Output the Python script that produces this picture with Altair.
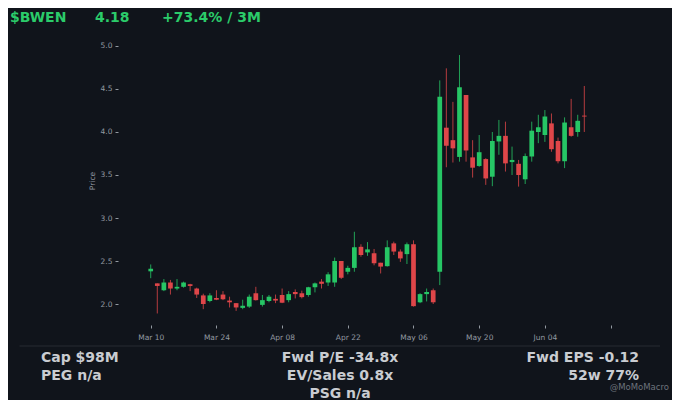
import json
import altair as alt
import numpy as np
import pandas as pd

# ---- data (trading-day index 0 = Mar 10) ----
opens = [2.38, 2.24, 2.16, 2.25, 2.18, 2.20, 2.23, 2.18, 2.10, 2.035,
         2.07, 2.11, 2.04, 2.01, 1.955, 1.97, 2.125, 1.99, 2.035, 2.06,
         2.105, 2.045, 2.14, 2.125, 2.105, 2.195, 2.26, 2.25, 2.25, 2.50,
         2.375, 2.42, 2.665, 2.60, 2.59, 2.48, 2.44, 2.705, 2.61, 2.58,
         2.695, 2.02, 2.115, 2.16, 2.375, 4.05, 3.905, 3.71, 4.43, 3.705,
         3.605, 3.685, 3.48, 3.89, 3.955, 3.65, 3.63, 3.45, 3.715, 4.00,
         3.965, 4.10, 3.895, 3.66, 4.055, 4.00, 4.19]
highs = [2.46, 2.24, 2.29, 2.28, 2.29, 2.26, 2.235, 2.19, 2.12, 2.125,
         2.16, 2.15, 2.085, 2.01, 2.05, 2.11, 2.20, 2.105, 2.105, 2.11,
         2.18, 2.15, 2.17, 2.155, 2.20, 2.25, 2.29, 2.37, 2.54, 2.50,
         2.445, 2.84, 2.695, 2.72, 2.64, 2.48, 2.74, 2.725, 2.635, 2.715,
         2.74, 2.125, 2.18, 2.18, 4.60, 4.74, 4.35, 4.895, 4.43, 3.905,
         3.965, 3.695, 4.00, 4.14, 4.12, 3.83, 3.675, 3.75, 4.12, 4.20,
         4.255, 4.215, 3.935, 4.17, 4.385, 4.20, 4.535]
lows = [2.30, 1.89, 2.15, 2.11, 2.16, 2.19, 2.15, 2.07, 1.94, 2.02,
        2.045, 2.045, 1.96, 1.92, 1.94, 1.955, 2.04, 1.97, 2.02, 2.01,
        2.01, 2.02, 2.065, 2.065, 2.085, 2.135, 2.18, 2.21, 2.20, 2.29,
        2.345, 2.375, 2.55, 2.56, 2.45, 2.355, 2.435, 2.57, 2.49, 2.465,
        1.97, 2.01, 2.03, 2.00, 2.22, 3.59, 3.645, 3.655, 3.655, 3.47,
        3.595, 3.385, 3.37, 3.735, 3.54, 3.50, 3.365, 3.395, 3.655, 3.87,
        3.885, 3.77, 3.635, 3.58, 3.945, 3.945, 4.00]
closes = [2.41, 2.21, 2.25, 2.18, 2.20, 2.25, 2.21, 2.11, 2.00, 2.10,
          2.05, 2.055, 2.02, 1.96, 1.98, 2.085, 2.045, 2.045, 2.085, 2.04,
          2.015, 2.115, 2.115, 2.08, 2.195, 2.24, 2.235, 2.345, 2.50, 2.305,
          2.42, 2.66, 2.57, 2.635, 2.475, 2.435, 2.66, 2.61, 2.53, 2.695,
          1.975, 2.115, 2.14, 2.02, 4.41, 3.84, 3.81, 4.52, 3.785, 3.585,
          3.765, 3.46, 3.895, 3.955, 3.635, 3.675, 3.50, 3.72, 4.015, 4.055,
          4.18, 3.80, 3.66, 4.11, 3.955, 4.13, 4.18]

tick_index = [0, 10, 20, 30, 40, 50, 60, 70]
tick_labels = ["Mar 10", "Mar 24", "Apr 08", "Apr 22", "May 06", "May 20", "Jun 04", ""]
y_ticks = [2.0, 2.5, 3.0, 3.5, 4.0, 4.5, 5.0]

header = ["$BWEN", "4.18", "+73.4% / 3M"]
stats_left = ["Cap $98M", "PEG n/a"]
stats_mid = ["Fwd P/E -34.8x", "EV/Sales 0.8x", "PSG n/a"]
stats_right = ["Fwd EPS -0.12", "52w 77%"]
credit = "@MoMoMacro"

df = pd.DataFrame({"i": list(range(len(opens))), "open": opens, "high": highs,
                   "low": lows, "close": closes})
df["dir"] = np.where(df["close"] >= df["open"], "up", "down")

BG = "#10141b"
GREEN = "#26c665"
RED = "#df4649"
AXIS_TXT = "#9299a1"
STAT_TXT = "#c9ccd1"
HEAD = "#2bcb6a"
FONT = "DejaVu Sans"

W, H = 514, 289

label_expr = json.dumps(tick_labels) + "[round(datum.value / 10)]"

x_enc = alt.X("i:Q",
              scale=alt.Scale(domain=[-4.22, 72.5], nice=False, zero=False),
              axis=alt.Axis(values=tick_index, labelExpr=label_expr, title=None,
                            grid=False, domain=False, tickSize=3,
                            tickColor=AXIS_TXT, labelColor=AXIS_TXT,
                            labelFontSize=7.5, labelFont=FONT, labelPadding=5,
                            labelFlush=False, labelOverlap=False))
y_scale = alt.Scale(domain=[1.756, 5.116], nice=False, zero=False)
y_axis = alt.Axis(values=y_ticks, format=".1f", title="Price", grid=False,
                  domain=False, tickSize=3, tickColor=AXIS_TXT,
                  labelColor=AXIS_TXT, labelFontSize=7.5, labelFont=FONT,
                  labelPadding=3, titleColor=AXIS_TXT, titleFontSize=7.5,
                  titleFont=FONT, titleFontWeight="normal", titlePadding=4)

color = alt.Color("dir:N", scale=alt.Scale(domain=["up", "down"], range=[GREEN, RED]),
                  legend=None)

base = alt.Chart(df)
wicks = base.mark_rule(strokeWidth=1, opacity=0.8).encode(
    x=x_enc, y=alt.Y("low:Q", scale=y_scale, axis=y_axis), y2="high:Q", color=color)
bodies = base.mark_bar(size=4.7).encode(
    x=alt.X("i:Q"), y=alt.Y("open:Q"), y2="close:Q", color=color)


def ann(text, x, y, align="left", size=14, col=STAT_TXT, weight="bold"):
    return alt.Chart(alt.Data(values=[{"t": text}])).mark_text(
        align=align, baseline="middle", fontSize=size, font=FONT,
        fontWeight=weight, color=col).encode(
        x=alt.value(x), y=alt.value(y), text="t:N")


layers = [wicks, bodies]
# header
layers.append(ann(header[0], -108, -18, col=HEAD))
layers.append(ann(header[1], -23, -18, col=HEAD))
layers.append(ann(header[2], 44, -18, col=HEAD))
# separator
layers.append(alt.Chart(alt.Data(values=[{"v": 1}])).mark_rule(
    color="#262b33", strokeWidth=1).encode(
    x=alt.value(-98.5), x2=alt.value(542), y=alt.value(310)))
# stats
for k, t in enumerate(stats_left):
    layers.append(ann(t, -77, 322 + 18 * k))
for k, t in enumerate(stats_mid):
    layers.append(ann(t, 222, 322 + 18 * k, align="center"))
for k, t in enumerate(stats_right):
    layers.append(ann(t, 521, 322 + 18 * k, align="right"))
layers.append(ann(credit, 551, 351, align="right", size=8.5, col="#6d737b",
                  weight="normal"))

chart = alt.layer(*layers).properties(
    width=W, height=H, background=BG,
    autosize=alt.AutoSizeParams(type="none"),
    padding={"left": 110, "top": 28, "right": 40, "bottom": 75},
).configure_view(stroke=None)

chart.save("out.html", embed_options={"renderer": "svg", "actions": False})
